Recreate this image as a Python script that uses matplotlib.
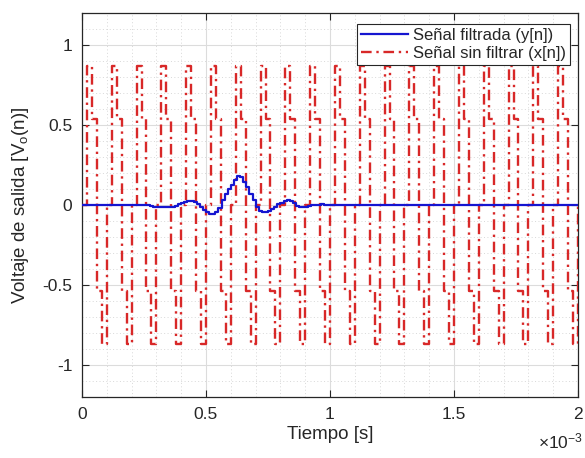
import numpy as np
import matplotlib
matplotlib.use("Agg")
import matplotlib.pyplot as plt
from matplotlib.ticker import MultipleLocator, FixedLocator, FuncFormatter

plt.rcParams['font.family'] = ['Liberation Sans', 'DejaVu Sans']
plt.rcParams['mathtext.fontset'] = 'custom'
plt.rcParams['mathtext.rm'] = 'Liberation Sans'
plt.rcParams['mathtext.it'] = 'Liberation Sans:italic'
plt.rcParams['axes.unicode_minus'] = False

# ---------------- data (time in ms, shown with x10^-3 s) ----------------
x_dt = 0.02          # ms, sample spacing of the unfiltered signal
x_vals = [
    0, 0.87, 0.54, -0.54, -0.87,
    0, 0.87, 0.54, -0.54, -0.87,
    0, 0.87, 0.54, -0.54, -0.87,
    0, 0.87, 0.54, -0.54, -0.87,
    0, 0.87, 0.54, -0.54, -0.87,
    0, 0.87, 0.54, -0.54, -0.87,
    0, 0.87, 0.54, -0.54, -0.87,
    0, 0.87, 0.54, -0.54, -0.87,
    0, 0.87, 0.54, -0.54, -0.87,
    0, 0.87, 0.54, -0.54, -0.87,
    0, 0.87, 0.54, -0.54, -0.87,
    0, 0.87, 0.54, -0.54, -0.87,
    0, 0.87, 0.54, -0.54, -0.87,
    0, 0.87, 0.54, -0.54, -0.87,
    0, 0.87, 0.54, -0.54, -0.87,
    0, 0.87, 0.54, -0.54, -0.87,
    0, 0.87, 0.54, -0.54, -0.87,
    0, 0.87, 0.54, -0.54, -0.87,
    0, 0.87, 0.54, -0.54, -0.87,
    0, 0.87, 0.54, -0.54, -0.87,
    0,
]

y_dt = 0.0125        # ms, step of the filtered signal
y_start = 0.25       # ms, start of the transient
y_active = [
    0.003, 0.002, -0.005, -0.010, -0.012, -0.015, -0.015, -0.013,
    -0.015, -0.012, -0.005, 0.005, 0.012, 0.018, 0.022, 0.022,
    0.018, 0.008, -0.010, -0.030, -0.045, -0.055, -0.055, -0.045,
    -0.020, 0.030, 0.070, 0.100, 0.125, 0.155, 0.180, 0.175,
    0.145, 0.110, 0.070, 0.030, -0.015, -0.040, -0.045, -0.045,
    -0.040, -0.025, -0.010, 0.005, 0.015, 0.025, 0.030, 0.022,
    0.010, -0.005, -0.012, -0.015, -0.012, -0.008, -0.003, 0.000,
    0.003, 0.004, 0.003, 0.000,
]

x_tick_vals = [0, 0.5, 1, 1.5, 2]
y_tick_vals = [-1, -0.5, 0, 0.5, 1]
label_y = 'Señal filtrada (y[n])'
label_x = 'Señal sin filtrar (x[n])'

# ---------------- build series ----------------
t_x = np.arange(len(x_vals)) * x_dt
n_total = int(round(2.0 / y_dt)) + 1
t_y = np.arange(n_total) * y_dt
i0 = int(round(y_start / y_dt))
y_full = np.zeros(n_total)
y_full[i0:i0 + len(y_active)] = y_active

# ---------------- figure ----------------
fig = plt.figure(figsize=(5.85, 4.58), dpi=100)
ax = fig.add_axes([82/585, 1-397/458, (578-82)/585, (397-13)/458])

txt_col = '#262626'
ax.plot(t_x, x_vals, drawstyle='steps-post', color='#d82828', lw=1.7,
        linestyle=(0, (4.5, 2.0, 1, 2.0)), label=label_x, zorder=3,
        dash_joinstyle='round', dash_capstyle='butt')
ax.plot(t_y, y_full, drawstyle='steps-post', color='#1515d0', lw=1.6,
        label=label_y, zorder=4)

ax.set_xlim(0, 2)
ax.set_ylim(-1.2, 1.2)
ax.xaxis.set_major_locator(FixedLocator(x_tick_vals))
ax.yaxis.set_major_locator(FixedLocator(y_tick_vals))
ax.xaxis.set_minor_locator(MultipleLocator(0.1))
ax.yaxis.set_minor_locator(MultipleLocator(0.1))
fmt = FuncFormatter(lambda v, p: '%g' % v)
ax.xaxis.set_major_formatter(fmt)
ax.yaxis.set_major_formatter(fmt)

ax.grid(True, which='major', color='#dcdcdc', lw=0.8, linestyle='-', zorder=0)
ax.grid(True, which='minor', color='#d8d8d8', lw=0.7, linestyle=(0, (1, 2.5)), zorder=0)
ax.set_axisbelow(True)

ax.tick_params(which='major', direction='in', length=5, width=0.8, colors=txt_col,
               labelsize=12.5, top=True, right=True, pad=7)
ax.tick_params(which='minor', length=0, top=True, right=True)
for s in ax.spines.values():
    s.set_color(txt_col)
    s.set_linewidth(0.9)

ax.set_xlabel('Tiempo [s]', fontsize=13.5, color=txt_col, labelpad=3)
ax.set_ylabel('Voltaje de salida [V$_{\\rm o}$(n)]', fontsize=13.5, color=txt_col, labelpad=8)

fig.text(583/585, 1-441/458, '$\\times$10$^{-3}$', ha='right', va='center',
         fontsize=12.5, color=txt_col)

handles, labels = ax.get_legend_handles_labels()
leg = ax.legend([handles[1], handles[0]], [labels[1], labels[0]],
                loc='upper right', bbox_to_anchor=(1 - 8/496, 1 - 11/384),
                fontsize=12, frameon=True, fancybox=False, framealpha=1,
                edgecolor=txt_col, handlelength=2.8, handletextpad=0.3,
                borderpad=0.25, labelspacing=0.15, borderaxespad=0)
leg.get_frame().set_linewidth(0.8)
for t in leg.get_texts():
    t.set_color(txt_col)

fig.savefig('out.png', dpi=100)
